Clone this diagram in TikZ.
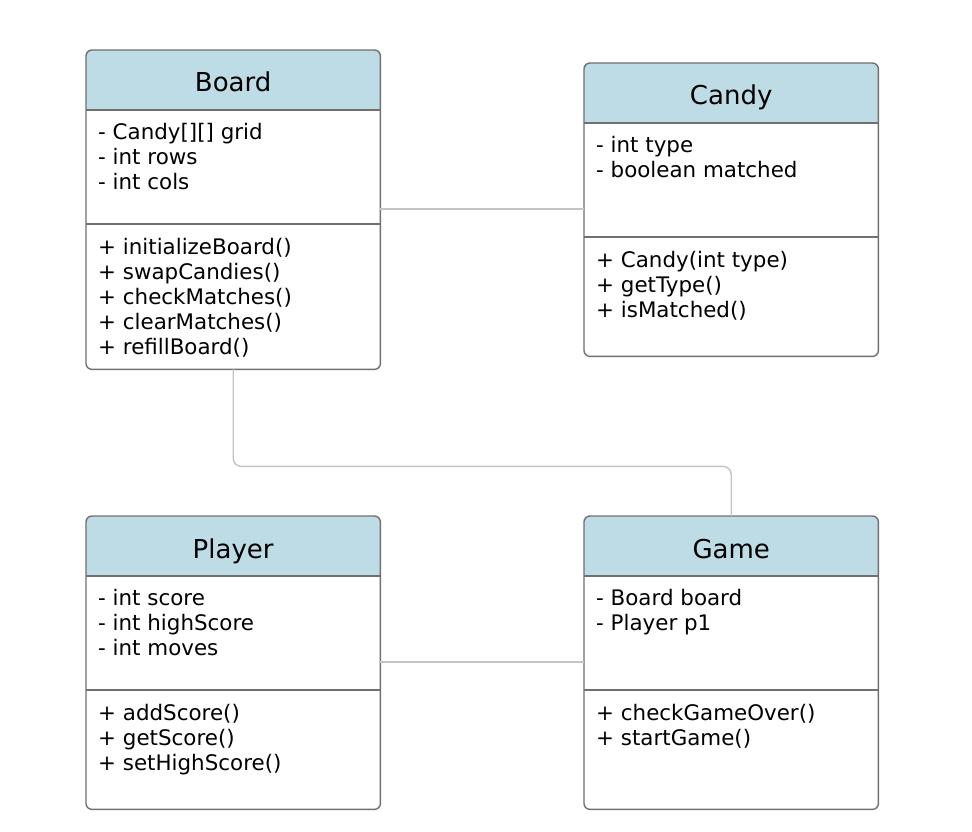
\documentclass[tikz,border=0pt]{standalone}
\usepackage{fontspec}
\setmainfont{DejaVu Sans}
\definecolor{hdrblue}{HTML}{BEDCE6}
\definecolor{boxgray}{HTML}{707070}
\definecolor{conngray}{HTML}{C4C4C4}
\tikzset{
  classbox/.style={draw=none, inner sep=0, minimum width=294pt, anchor=north west},
  classborder/.style={draw=boxgray, line width=1.4pt, rounded corners=6pt},
  divline/.style={draw=boxgray, line width=1.2pt},
  titletext/.style={anchor=base, inner sep=0, font=\fontsize{26}{30}\selectfont},
  membertext/.style={anchor=north west, inner sep=0, align=left, font=\fontsize{21.4}{25}\selectfont},
  conn/.style={draw=conngray, line width=1.4pt}
}
\newcommand{\umlclass}[7]{%
  \node[classbox, minimum height=#4pt] (#1) at (#2,-#3) {};
  \begin{scope}
    \clip[rounded corners=6pt] (#1.north west) rectangle (#1.south east);
    \fill[hdrblue] (#1.north west) rectangle ([yshift=-60pt]#1.north east);
  \end{scope}
  \draw[classborder] (#1.north west) rectangle (#1.south east);
  \draw[divline] ([yshift=-60pt]#1.north west) -- ([yshift=-60pt]#1.north east);
  \draw[divline] ([yshift=-174pt]#1.north west) -- ([yshift=-174pt]#1.north east);
  \node[titletext] (#1-title) at ([yshift=-42pt]#1.north) {#5};
  \node[membertext] (#1-attrs) at ([xshift=12pt,yshift=-72pt]#1.north west) {#6};
  \node[membertext] (#1-ops) at ([xshift=12pt,yshift=-187pt]#1.north west) {#7};
}
\begin{document}
\begin{tikzpicture}[x=1pt,y=1pt]
\useasboundingbox (0,0) rectangle (972,-832);
\fill[white] (0,0) rectangle (972,-832);
\umlclass{board}{86}{50}{319}{Board}%
  {\strut- Candy[][] grid\\\strut- int rows\\\strut- int cols}%
  {\strut+ initializeBoard()\\\strut+ swapCandies()\\\strut+ checkMatches()\\\strut+ clearMatches()\\\strut+ refillBoard()}
\umlclass{candy}{584}{63}{293}{Candy}%
  {\strut- int type\\\strut- boolean matched}%
  {\strut+ Candy(int type)\\\strut+ getType()\\\strut+ isMatched()}
\umlclass{player}{86}{516}{293}{Player}%
  {\strut- int score\\\strut- int highScore\\\strut- int moves}%
  {\strut+ addScore()\\\strut+ getScore()\\\strut+ setHighScore()}
\umlclass{game}{584}{516}{293}{Game}%
  {\strut- Board board\\\strut- Player p1}%
  {\strut+ checkGameOver()\\\strut+ startGame()}
\coordinate (bcy) at (0,-209);
\coordinate (pgy) at (0,-662);
\draw[conn] (board.east |- bcy) -- (candy.west |- bcy);
\draw[conn, rounded corners=8pt] (board.south) -- ++(0,-97) -| (game.north);
\draw[conn] (player.east |- pgy) -- (game.west |- pgy);
\end{tikzpicture}
\end{document}
